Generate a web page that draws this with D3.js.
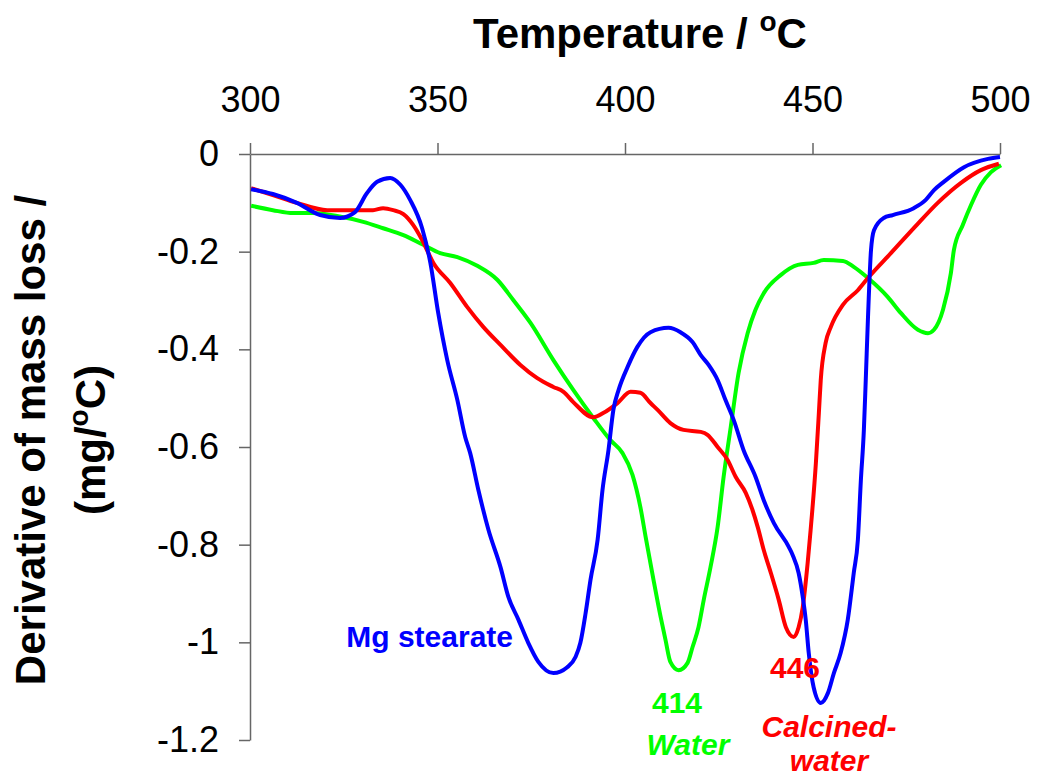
<!DOCTYPE html>
<html>
  <body style="margin:0">
    <style>
      body { background: #fff; }
      text { font-family: "Liberation Sans", Arial, sans-serif; }
    </style>
    <script src="https://d3js.org/d3.v7.min.js"></script>
    <script type="text/javascript">
      const width = 1037;
      const height = 780;

      // x ticks (Temperature / oC) and y ticks (derivative of mass loss)
      const xTicks = [300, 350, 400, 450, 500];
      const yTicks = [0, -0.2, -0.4, -0.6, -0.8, -1, -1.2];
      const yTickLabels = ['0', '-0.2', '-0.4', '-0.6', '-0.8', '-1', '-1.2'];

      // [temperature, dm/dT]
      const mgStearate = [
        [300.3, -0.072], [306.1, -0.082], [312.5, -0.100], [318.7, -0.125], [324.0, -0.131],
        [328.0, -0.119], [331.2, -0.080], [333.9, -0.057], [337.4, -0.049], [340.1, -0.063],
        [342.7, -0.094], [345.9, -0.152], [348.1, -0.223], [350.2, -0.326], [352.6, -0.422],
        [355.3, -0.504], [357.4, -0.580], [358.7, -0.612], [360.9, -0.688], [363.6, -0.770],
        [366.8, -0.846], [368.9, -0.907], [371.6, -0.954], [374.2, -1.001], [376.9, -1.040],
        [380.9, -1.063], [384.6, -1.051], [386.8, -1.030], [388.1, -1.001], [389.5, -0.940],
        [390.8, -0.872], [392.7, -0.790], [394.0, -0.688], [395.6, -0.606], [396.9, -0.524],
        [398.3, -0.483], [400.7, -0.436], [403.3, -0.395], [406.8, -0.365], [411.6, -0.356],
        [414.8, -0.365], [418.0, -0.385], [420.2, -0.412], [422.3, -0.432], [424.7, -0.463],
        [426.8, -0.504], [429.0, -0.545], [431.6, -0.606], [434.8, -0.661], [437.0, -0.709],
        [439.7, -0.756], [443.7, -0.805], [444.7, -0.821], [446.3, -0.858], [447.4, -0.907],
        [448.2, -0.954], [449.0, -1.022], [450.3, -1.092], [452.2, -1.124], [454.1, -1.104],
        [455.7, -1.063], [457.5, -1.022], [459.4, -0.954], [461.0, -0.858], [462.1, -0.790],
        [462.9, -0.668], [463.7, -0.565], [464.2, -0.463], [464.8, -0.334], [465.6, -0.197],
        [466.4, -0.156], [469.0, -0.131], [471.4, -0.125], [477.0, -0.111], [480.2, -0.094],
        [482.4, -0.074], [485.0, -0.057], [490.4, -0.027], [496.8, -0.010], [500.0, -0.006]
      ];

      const calcinedWater = [
        [300.3, -0.070], [306.1, -0.084], [312.5, -0.100], [320.6, -0.115], [332.8, -0.115],
        [335.5, -0.111], [338.2, -0.115], [340.9, -0.123], [343.5, -0.145], [345.9, -0.176],
        [348.9, -0.223], [353.4, -0.264], [357.9, -0.313], [362.2, -0.354], [366.8, -0.391],
        [372.1, -0.432], [376.6, -0.459], [380.9, -0.477], [383.6, -0.487], [386.2, -0.508],
        [391.6, -0.539], [394.3, -0.530], [398.0, -0.510], [401.5, -0.487], [404.1, -0.489],
        [406.8, -0.510], [408.7, -0.524], [412.1, -0.551], [415.6, -0.565], [420.2, -0.569],
        [422.0, -0.575], [424.7, -0.600], [427.4, -0.627], [429.5, -0.661], [432.2, -0.694],
        [434.0, -0.729], [435.4, -0.764], [437.0, -0.811], [438.9, -0.858], [441.0, -0.913],
        [442.9, -0.969], [445.0, -0.989], [446.3, -0.969], [447.4, -0.928], [448.7, -0.838],
        [449.5, -0.770], [450.9, -0.633], [451.7, -0.530], [452.2, -0.463], [453.5, -0.387],
        [454.9, -0.354], [458.1, -0.309], [462.1, -0.279], [465.0, -0.252], [470.9, -0.203],
        [477.0, -0.152], [483.4, -0.100], [489.6, -0.059], [494.9, -0.033], [499.7, -0.020]
      ];

      const water = [
        [300.3, -0.106], [306.1, -0.115], [311.5, -0.121], [316.8, -0.121], [323.2, -0.127],
        [330.2, -0.139], [335.5, -0.152], [340.9, -0.166], [346.2, -0.186], [350.7, -0.203],
        [355.3, -0.211], [360.6, -0.229], [366.0, -0.258], [370.2, -0.299], [374.8, -0.346],
        [380.9, -0.422], [386.2, -0.483], [391.6, -0.541], [396.1, -0.586], [399.3, -0.612],
        [402.0, -0.657], [404.1, -0.723], [405.5, -0.784], [407.6, -0.872], [409.5, -0.948],
        [410.8, -0.995], [412.1, -1.040], [414.3, -1.057], [416.7, -1.042], [418.0, -1.010],
        [419.6, -0.969], [421.0, -0.913], [422.8, -0.846], [424.7, -0.764], [426.3, -0.661],
        [428.2, -0.559], [430.3, -0.448], [432.7, -0.367], [434.8, -0.319], [437.0, -0.285],
        [441.5, -0.248], [446.1, -0.227], [450.3, -0.223], [453.0, -0.217], [458.1, -0.219],
        [461.0, -0.231], [464.8, -0.254], [470.1, -0.293], [473.6, -0.326], [478.1, -0.360],
        [480.8, -0.367], [482.4, -0.360], [484.8, -0.319], [486.9, -0.244], [487.7, -0.197],
        [490.1, -0.145], [492.3, -0.104], [494.9, -0.063], [497.6, -0.037], [500.3, -0.023]
      ];

      const seriesList = [
        { name: 'water', data: water, color: '#00ff00' },
        { name: 'calcined', data: calcinedWater, color: '#ff0000' },
        { name: 'stearate', data: mgStearate, color: '#0000ff' },
      ];

      const xScale = d3.scaleLinear().domain([300, 500]).range([250, 1000]);
      const yScale = d3.scaleLinear().domain([-1.2, 0]).range([740, 154]);

      const svg = d3.select('body')
        .append('svg')
        .attr('width', width)
        .attr('height', height);

      // top x axis
      const xAxis = svg.append('g')
        .attr('transform', `translate(0,${yScale(0)})`)
        .call(d3.axisTop(xScale).tickValues(xTicks).tickSizeInner(11).tickSizeOuter(0).tickPadding(31));

      const yAxis = svg.append('g')
        .attr('transform', `translate(${xScale(300)},0)`)
        .call(d3.axisLeft(yScale).tickValues(yTicks).tickSizeInner(11).tickSizeOuter(0).tickPadding(20)
          .tickFormat((d, i) => yTickLabels[i]));

      [xAxis, yAxis].forEach((ax) => {
        ax.select('.domain').attr('stroke', '#666').attr('stroke-width', 1.5);
        ax.selectAll('.tick line').attr('stroke', '#666').attr('stroke-width', 1.5);
        ax.selectAll('.tick text')
          .attr('fill', '#000')
          .style('font-size', '36px')
          .style('font-family', '"Liberation Sans", Arial, sans-serif');
      });
      xAxis.selectAll('.tick text').attr('dy', '0');

      const line = d3.line()
        .x((d) => xScale(d[0]))
        .y((d) => yScale(d[1]))
        .curve(d3.curveMonotoneX);

      svg.append('g')
        .selectAll('path')
        .data(seriesList)
        .enter()
        .append('path')
        .attr('d', (d) => line(d.data))
        .attr('fill', 'none')
        .attr('stroke', (d) => d.color)
        .attr('stroke-width', 4)
        .attr('stroke-linejoin', 'round');

      // axis titles
      const xTitle = svg.append('text')
        .attr('x', 640)
        .attr('y', 48)
        .attr('text-anchor', 'middle')
        .style('font-size', '42px')
        .style('font-weight', 'bold');
      xTitle.append('tspan').text('Temperature / ');
      xTitle.append('tspan').attr('dy', -17).style('font-size', '28px').text('o');
      xTitle.append('tspan').attr('dy', 17).text('C');

      const yTitle = svg.append('g').attr('transform', 'translate(45,440) rotate(-90)');
      yTitle.append('text')
        .attr('text-anchor', 'middle')
        .style('font-size', '42px')
        .style('font-weight', 'bold')
        .text('Derivative of mass loss /');
      const yTitle2 = yTitle.append('text')
        .attr('y', 60)
        .attr('text-anchor', 'middle')
        .style('font-size', '42px')
        .style('font-weight', 'bold');
      yTitle2.append('tspan').text('(mg/');
      yTitle2.append('tspan').attr('dy', -17).style('font-size', '28px').text('o');
      yTitle2.append('tspan').attr('dy', 17).text('C)');

      // curve labels
      const labels = [
        { text: 'Mg stearate', x: 513, y: 647, anchor: 'end', color: '#0000ff', italic: false },
        { text: '414', x: 677, y: 713, anchor: 'middle', color: '#00ff00', italic: false },
        { text: 'Water', x: 688, y: 755, anchor: 'middle', color: '#00ff00', italic: true },
        { text: '446', x: 795, y: 678, anchor: 'middle', color: '#ff0000', italic: false },
        { text: 'Calcined-', x: 829, y: 737, anchor: 'middle', color: '#ff0000', italic: true },
        { text: 'water', x: 829, y: 771, anchor: 'middle', color: '#ff0000', italic: true },
      ];

      svg.append('g')
        .selectAll('text')
        .data(labels)
        .enter()
        .append('text')
        .attr('x', (d) => d.x)
        .attr('y', (d) => d.y)
        .attr('text-anchor', (d) => d.anchor)
        .attr('fill', (d) => d.color)
        .style('font-size', '30px')
        .style('font-weight', 'bold')
        .style('font-style', (d) => (d.italic ? 'italic' : 'normal'))
        .text((d) => d.text);
    </script>
  </body>
</html>
